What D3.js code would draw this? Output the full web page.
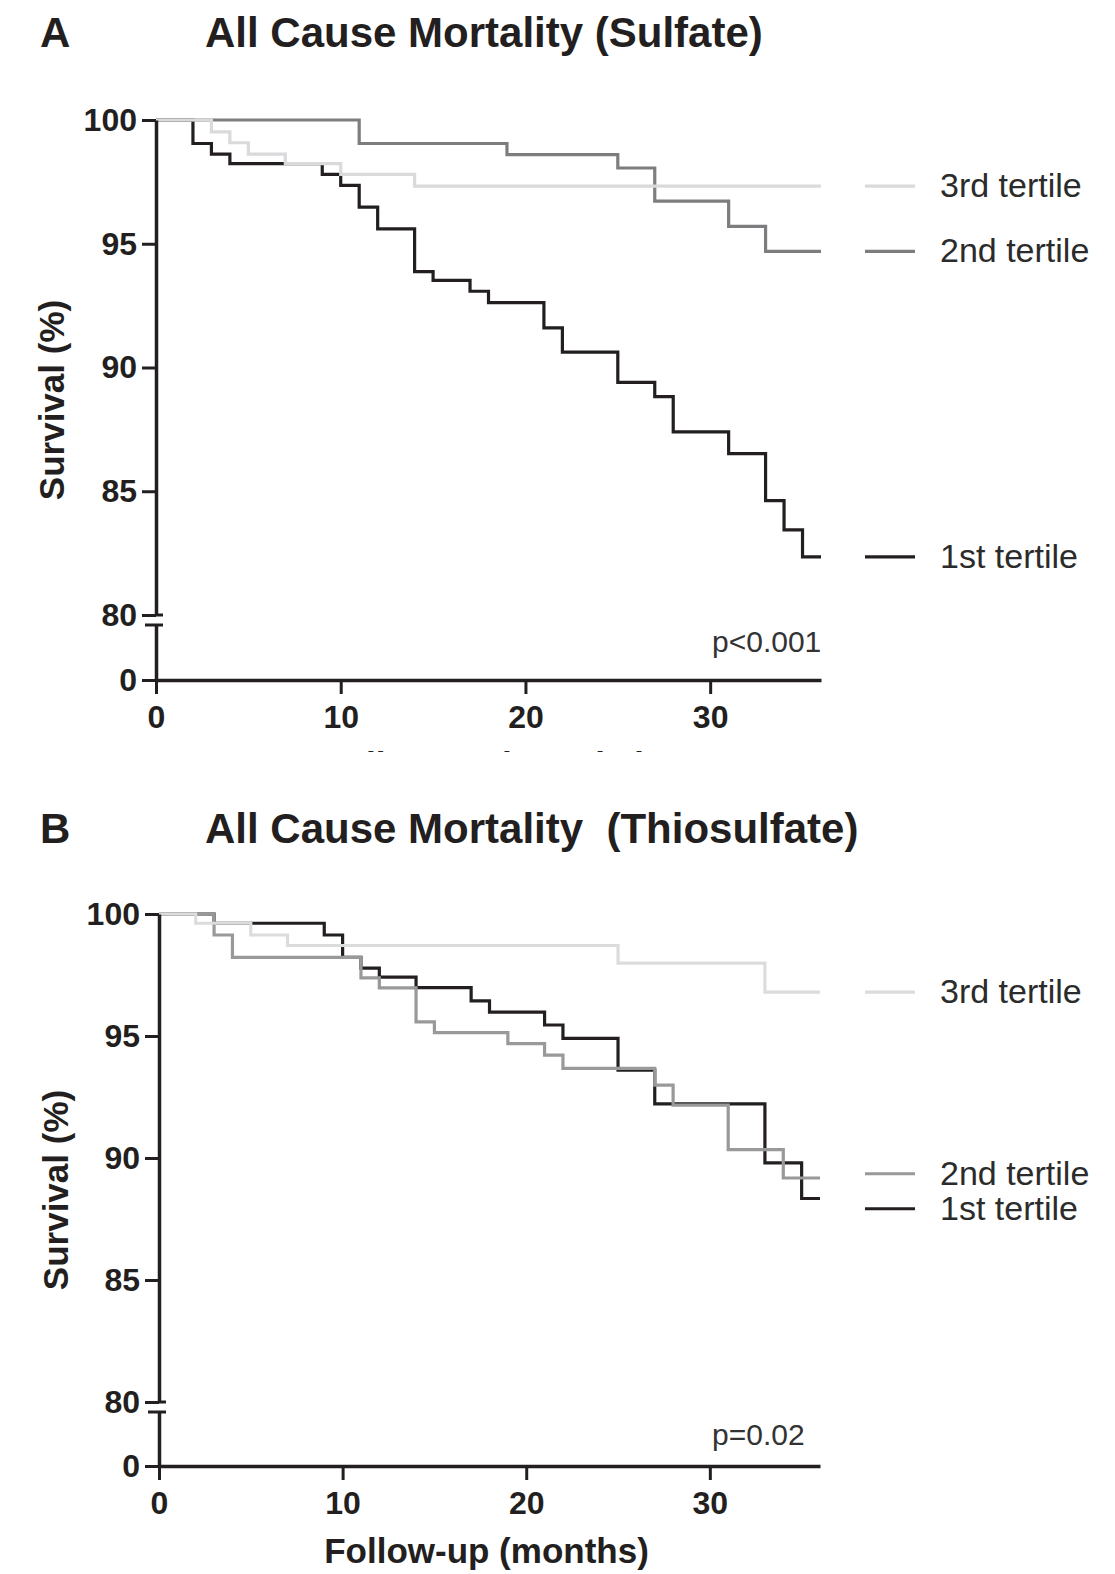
<!DOCTYPE html>
<html><head><meta charset="utf-8">
<script src="https://cdn.jsdelivr.net/npm/d3@7"></script>
<style>
body{margin:0;background:#fff}
svg{display:block}
text{font-family:"Liberation Sans",Arial,Helvetica,sans-serif}
</style>
</head><body>
<svg id="chart" width="1115" height="1574"></svg>
<script>
// ---------------- data ----------------
const tertileNames = ["1st tertile", "2nd tertile", "3rd tertile"];
const xTickValues = [0, 10, 20, 30];
const yTickValuesTop = [80, 85, 90, 95, 100];
const yTickValuesBottom = [0];

// Panel A – Sulfate
const sulfateT1Time = [0, 2, 3, 4, 9, 10, 11, 12, 14, 15, 17, 18, 21, 22, 25, 27, 28, 31, 33, 34, 35, 36];
const sulfateT1Surv = [100, 99.05, 98.62, 98.24, 97.8, 97.36, 96.48, 95.6, 93.87, 93.52, 93.08, 92.62, 91.6, 90.62, 89.4, 88.82, 87.4, 86.52, 84.62, 83.44, 82.35, 82.35];
const sulfateT2Time = [0, 11, 19, 25, 27, 31, 33, 36];
const sulfateT2Surv = [100, 99.05, 98.6, 98.06, 96.72, 95.7, 94.69, 94.69];
const sulfateT3Time = [0, 3, 4, 5, 7, 10, 14, 36];
const sulfateT3Surv = [100, 99.52, 99.08, 98.62, 98.24, 97.8, 97.33, 97.33];

// Panel B – Thiosulfate
const thioT1Time = [0, 3, 9, 10, 11, 12, 14, 17, 18, 21, 22, 25, 27, 33, 35, 36];
const thioT1Surv = [100, 99.62, 99.14, 98.22, 97.78, 97.41, 96.98, 96.44, 95.98, 95.45, 94.9, 93.6, 92.22, 89.8, 88.34, 88.34];
const thioT2Time = [0, 3, 4, 11, 12, 14, 15, 19, 21, 22, 27, 28, 31, 34, 36];
const thioT2Surv = [100, 99.14, 98.22, 97.38, 96.97, 95.58, 95.14, 94.69, 94.22, 93.67, 92.99, 92.17, 90.34, 89.18, 89.18];
const thioT3Time = [0, 2, 5, 7, 25, 33, 36];
const thioT3Surv = [100, 99.62, 99.14, 98.71, 97.99, 96.8, 96.8];

// ---------------- drawing ----------------
const svg = d3.select("#chart");
const font = '"Liberation Sans",Arial,Helvetica,sans-serif';
const ink = "#231f20";

function zip(t, v) { return t.map((d, i) => ({t: d, v: v[i]})); }

function drawPanel(cfg) {
  const g = svg.append("g");
  const x = d3.scaleLinear().domain([0, 36]).range([cfg.x0, cfg.x1]);
  const yTop = d3.scaleLinear().domain([80, 100]).range([cfg.y80, cfg.y100]);
  const yBot = d3.scaleLinear().domain([0, 1]).range([cfg.y0, cfg.yBreak]);

  // panel letter and title
  g.append("text").attr("x", 40).attr("y", cfg.titleY).text(cfg.letter)
    .attr("font-size", 42).attr("font-weight", "bold").attr("fill", ink);
  g.append("text").attr("x", 205).attr("y", cfg.titleY).text(cfg.title)
    .style("white-space", "pre")
    .attr("font-size", 42).attr("font-weight", "bold").attr("fill", ink);

  // survival curves
  const line = d3.line().curve(d3.curveStepAfter).x(d => x(d.t)).y(d => yTop(d.v));
  cfg.series.forEach(s => {
    g.append("path").datum(zip(s.time, s.surv))
      .attr("d", line).attr("fill", "none")
      .attr("stroke", s.color).attr("stroke-width", 3.2)
      .attr("stroke-linejoin", "miter").attr("stroke-linecap", "butt");
  });

  // y axis – upper segment
  const axTop = g.append("g").attr("transform", `translate(${cfg.x0},0)`)
    .call(d3.axisLeft(yTop).tickValues(yTickValuesTop).tickFormat(d3.format("d"))
      .tickSize(14).tickSizeOuter(0).tickPadding(5));
  // y axis – lower segment
  const axBot = g.append("g").attr("transform", `translate(${cfg.x0},0)`)
    .call(d3.axisLeft(yBot).tickValues(yTickValuesBottom).tickFormat(d3.format("d"))
      .tickSize(14).tickSizeOuter(0).tickPadding(5));
  // x axis
  const axX = g.append("g").attr("transform", `translate(0,${cfg.y0})`)
    .call(d3.axisBottom(x).tickValues(xTickValues).tickFormat(d3.format("d"))
      .tickSize(14).tickSizeOuter(0).tickPadding(11));

  [axTop, axBot, axX].forEach(a => {
    a.select(".domain").attr("stroke", ink).attr("stroke-width", 3.5);
    a.selectAll(".tick line").attr("stroke", ink).attr("stroke-width", 3);
    a.selectAll(".tick text").attr("fill", ink).attr("font-size", 32)
      .attr("font-weight", "bold").attr("font-family", font);
  });
  // break marks
  g.append("line").attr("x1", cfg.x0).attr("x2", cfg.x0 + 7)
    .attr("y1", yTop(80)).attr("y2", yTop(80)).attr("stroke", ink).attr("stroke-width", 3);
  g.append("line").attr("x1", cfg.x0 - 11).attr("x2", cfg.x0 + 7)
    .attr("y1", yBot(1)).attr("y2", yBot(1)).attr("stroke", ink).attr("stroke-width", 3);

  // y axis label
  g.append("text")
    .attr("transform", `translate(${cfg.yLabelX},${(cfg.y100 + cfg.y0) / 2}) rotate(-90)`)
    .attr("text-anchor", "middle").text("Survival (%)")
    .attr("font-size", 35).attr("font-weight", "bold").attr("fill", ink);

  // x axis label
  const clipId = "clip" + cfg.letter;
  g.append("clipPath").attr("id", clipId).append("rect")
    .attr("x", 0).attr("y", 0).attr("width", 1115).attr("height", cfg.xLabelClip);
  g.append("text").attr("x", (cfg.x0 + cfg.x1) / 2 - 3).attr("y", cfg.y0 + 97)
    .attr("text-anchor", "middle").text("Follow-up (months)")
    .attr("clip-path", `url(#${clipId})`)
    .attr("font-size", 35).attr("font-weight", "bold").attr("fill", ink);

  // p value
  g.append("text").attr("x", 712).attr("y", cfg.pY).text(cfg.pText)
    .attr("font-size", 30).attr("fill", "#333");

  // legend at final survival values, spread apart when too close
  const leg = cfg.series.map(s => ({name: s.name, color: s.color, y: yTop(s.surv[s.surv.length - 1])}))
    .sort((a, b) => a.y - b.y);
  const minGap = 35;
  for (let i = 1; i < leg.length; i++) {
    if (leg[i].y - leg[i - 1].y < minGap) {
      const mid = (leg[i].y + leg[i - 1].y) / 2 + 3;
      leg[i - 1].y = mid - minGap / 2;
      leg[i].y = mid + minGap / 2;
    }
  }
  leg.forEach(l => {
    g.append("line").attr("x1", 865).attr("x2", 915).attr("y1", l.y).attr("y2", l.y)
      .attr("stroke", l.color).attr("stroke-width", 3.2);
    g.append("text").attr("x", 940).attr("y", l.y + 11).text(l.name)
      .attr("font-size", 34).attr("fill", "#2b2b2b");
  });
}

drawPanel({
  letter: "A", title: "All Cause Mortality (Sulfate)", titleY: 47,
  x0: 156, x1: 821, y100: 120, y80: 615, yBreak: 625, y0: 680,
  yLabelX: 64, xLabelClip: 752, pText: "p<0.001", pY: 652,
  series: [
    {name: tertileNames[0], time: sulfateT1Time, surv: sulfateT1Surv, color: ink},
    {name: tertileNames[1], time: sulfateT2Time, surv: sulfateT2Surv, color: "#7d7d7f"},
    {name: tertileNames[2], time: sulfateT3Time, surv: sulfateT3Surv, color: "#d9dadb"}
  ]
});

drawPanel({
  letter: "B", title: "All Cause Mortality  (Thiosulfate)", titleY: 843,
  x0: 159, x1: 820, y100: 914, y80: 1402, yBreak: 1412, y0: 1466,
  yLabelX: 68, xLabelClip: 1574, pText: "p=0.02", pY: 1445,
  series: [
    {name: tertileNames[0], time: thioT1Time, surv: thioT1Surv, color: ink},
    {name: tertileNames[1], time: thioT2Time, surv: thioT2Surv, color: "#99999b"},
    {name: tertileNames[2], time: thioT3Time, surv: thioT3Surv, color: "#dbdcdd"}
  ]
});
</script>
</body></html>
